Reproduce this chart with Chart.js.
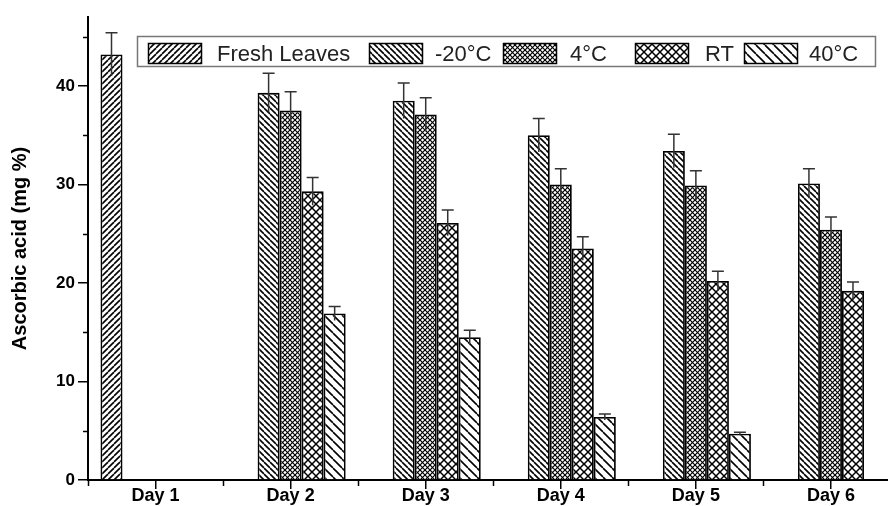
<!doctype html>
<html lang="en">
<head>
<meta charset="utf-8">
<title>Ascorbic acid</title>
<style>
  * { margin: 0; padding: 0; box-sizing: border-box; }
  body { background: #fff; overflow: hidden; width: 888px; height: 506px; }
  #wrap { width: 900px; height: 506px; }
</style>
</head>
<body>
<div id="wrap"><canvas id="myChart" width="900" height="506"></canvas></div>
<script src="https://cdn.jsdelivr.net/npm/chart.js@4/dist/chart.umd.min.js"></script>
<script>
// categories
const days = ['Day 1', 'Day 2', 'Day 3', 'Day 4', 'Day 5', 'Day 6'];
const seriesNames = ['Fresh Leaves', '-20°C', '4°C', 'RT', '40°C'];

// ascorbic acid (mg %)
const freshLeaves = [43.2, null, null, null, null, null];
const minus20 = [null, 39.3, 38.5, 35.0, 33.4, 30.1];
const cold4 = [null, 37.5, 37.1, 30.0, 29.9, 25.4];
const roomTemp = [null, 29.3, 26.1, 23.5, 20.2, 19.2];
const warm40 = [null, 16.9, 14.5, 6.4, 4.7, null];

// error bars (upper part)
const freshErr = [2.2, null, null, null, null, null];
const minus20Err = [null, 2.0, 1.8, 1.7, 1.7, 1.5];
const cold4Err = [null, 1.9, 1.7, 1.6, 1.5, 1.3];
const rtErr = [null, 1.4, 1.3, 1.2, 1.0, 0.9];
const warm40Err = [null, 0.7, 0.7, 0.3, 0.15, null];

const yTicks = [0, 10, 20, 30, 40];

const FONT = '"Liberation Sans", Arial, Helvetica, sans-serif';

// hatch patterns like the origin plot
function hatch(period, dirs, lw) {
  const c = document.createElement('canvas');
  c.width = period; c.height = period;
  const g = c.getContext('2d');
  g.fillStyle = '#fff';
  g.fillRect(0, 0, period, period);
  g.strokeStyle = '#000';
  g.lineWidth = lw;
  for (const d of dirs) {
    for (let k = -1; k <= 1; k++) {
      g.beginPath();
      if (d === '/') { g.moveTo(k * period, period); g.lineTo(k * period + period, 0); }
      else { g.moveTo(k * period, 0); g.lineTo(k * period + period, period); }
      g.stroke();
    }
  }
  return g.createPattern(c, 'repeat');
}

const patterns = [
  hatch(6, ['/'], 1.6),
  hatch(6, ['\\'], 1.6),
  hatch(5, ['/', '\\'], 1.2),
  hatch(8, ['/', '\\'], 1.5),
  hatch(9, ['\\'], 1.6)
];
const values = [freshLeaves, minus20, cold4, roomTemp, warm40];
const errors = [freshErr, minus20Err, cold4Err, rtErr, warm40Err];

const minorTicks = {
  id: 'minorTicks',
  afterDraw(chart) {
    const {ctx, scales: {x, y}, chartArea} = chart;
    ctx.save();
    ctx.strokeStyle = '#000';
    ctx.lineWidth = 1.5;
    for (let v = 5; v < y.max; v += 10) {
      const py = Math.round(y.getPixelForValue(v)) + 0.5;
      ctx.beginPath(); ctx.moveTo(chartArea.left - 5, py); ctx.lineTo(chartArea.left, py); ctx.stroke();
    }
    const half = (x.getPixelForValue(1) - x.getPixelForValue(0)) / 2;
    for (let i = 0; i <= days.length; i++) {
      const px = Math.round(x.getPixelForValue(i) - half) + 0.5;
      ctx.beginPath(); ctx.moveTo(px, chartArea.bottom); ctx.lineTo(px, chartArea.bottom + 6); ctx.stroke();
    }
    ctx.restore();
  }
};

const errorBars = {
  id: 'errorBars',
  afterDatasetsDraw(chart) {
    const {ctx, scales: {y}} = chart;
    ctx.save();
    ctx.strokeStyle = '#333';
    ctx.lineWidth = 1.5;
    errors.forEach((errs, di) => {
      const meta = chart.getDatasetMeta(di);
      meta.data.forEach((bar, i) => {
        const v = values[di][i], e = errs[i];
        if (v == null || e == null) return;
        const top = y.getPixelForValue(v + e);
        const low = y.getPixelForValue(v - e);
        ctx.beginPath();
        ctx.moveTo(bar.x, low); ctx.lineTo(bar.x, top);
        ctx.moveTo(bar.x - 6, top); ctx.lineTo(bar.x + 6, top);
        ctx.stroke();
      });
    });
    ctx.restore();
  }
};

// boxed legend drawn inside the plot like the original
const boxLegend = {
  id: 'boxLegend',
  afterDraw(chart) {
    const ctx = chart.ctx;
    const swatchX = [148, 369, 503, 635, 744];
    const textX = [217, 435, 570, 705, 809];
    ctx.save();
    ctx.fillStyle = '#fff';
    ctx.fillRect(137, 36, 738, 30);
    ctx.strokeStyle = '#777';
    ctx.lineWidth = 1.5;
    ctx.strokeRect(137.5, 36.5, 738, 30);
    ctx.font = '22px ' + FONT;
    ctx.textBaseline = 'alphabetic';
    chart.data.datasets.forEach((ds, i) => {
      ctx.fillStyle = ds.backgroundColor;
      ctx.fillRect(swatchX[i], 43, 53, 20);
      ctx.strokeStyle = '#000';
      ctx.lineWidth = 1.5;
      ctx.strokeRect(swatchX[i] + 0.5, 43.5, 53, 20);
      ctx.fillStyle = '#222';
      ctx.fillText(ds.label, textX[i], 61);
    });
    ctx.restore();
  }
};

const ctx = document.getElementById('myChart').getContext('2d');
const myChart = new Chart(ctx, {
  type: 'bar',
  data: {
    labels: days,
    datasets: seriesNames.map((name, i) => ({
      label: name,
      data: values[i],
      backgroundColor: patterns[i],
      borderColor: '#000',
      borderWidth: 1.8,
      borderSkipped: 'bottom'
    }))
  },
  options: {
    responsive: false,
    animation: false,
    devicePixelRatio: 1,
    layout: { padding: { top: 17, right: 1.5, left: 0, bottom: 0 } },
    datasets: { bar: { categoryPercentage: 0.815, barPercentage: 1 } },
    plugins: { legend: { display: false }, tooltip: { enabled: false } },
    scales: {
      x: {
        grid: { display: true, drawOnChartArea: false, offset: false, tickLength: 9, color: '#000', lineWidth: 1.5 },
        border: { display: true, color: '#000', width: 2 },
        ticks: { color: '#000', padding: -4, maxRotation: 0, font: { family: FONT, size: 18, weight: 'bold' } },
        afterFit(scale) { scale.height = 26; }
      },
      y: {
        min: 0,
        max: 47,
        afterBuildTicks(scale) { scale.ticks = yTicks.map(v => ({value: v})); },
        grid: { display: true, drawOnChartArea: false, tickLength: 10, color: '#000', lineWidth: 1.5 },
        border: { display: true, color: '#000', width: 2 },
        ticks: { color: '#000', padding: 3, font: { family: FONT, size: 17, weight: 'bold' } },
        title: {
          display: true,
          text: 'Ascorbic acid (mg %)',
          color: '#000',
          padding: { top: 8 },
          font: { family: FONT, size: 20, weight: 'bold' }
        },
        afterFit(scale) { scale.width = 88; }
      }
    }
  },
  plugins: [errorBars, minorTicks, boxLegend]
});
</script>
</body>
</html>
